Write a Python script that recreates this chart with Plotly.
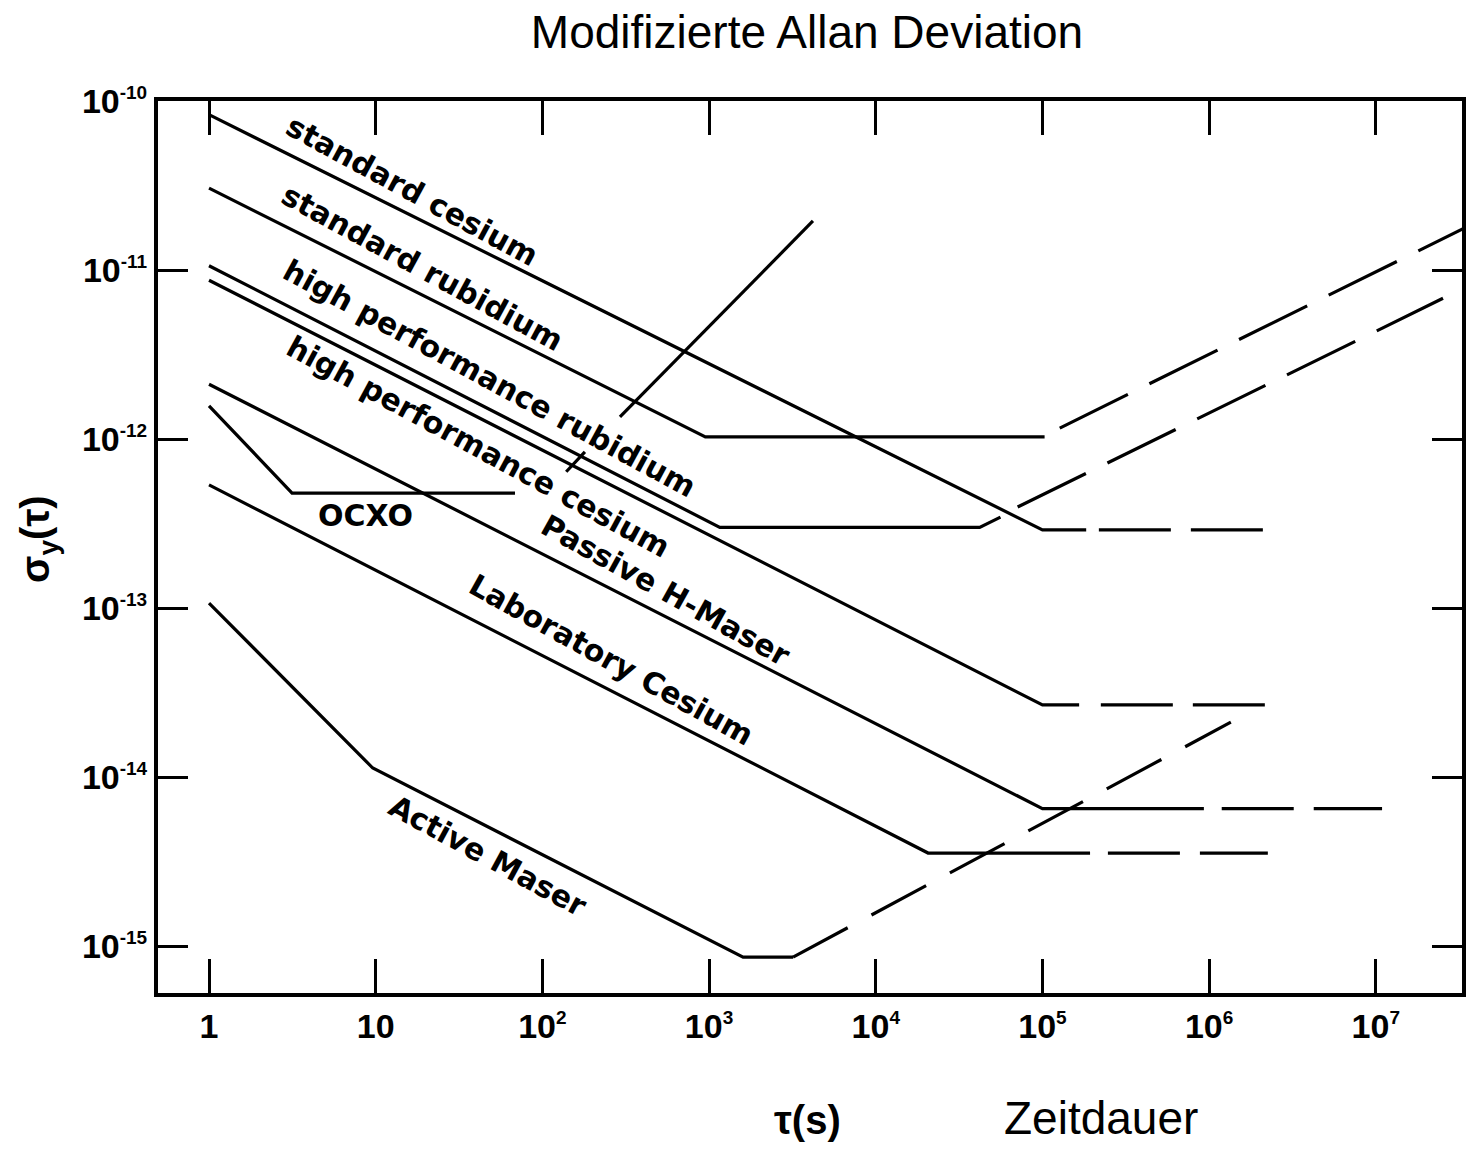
import plotly.graph_objects as go

# ---------------- data ----------------
# tau in seconds, sigma_y(tau) modified Allan deviation
std_cs_tau = [1, 1e5, 1.83e5]
std_cs_sig = [8.3e-11, 2.9e-13, 2.9e-13]
std_cs_ext_tau = [2.18e5, 2.25e6]
std_cs_ext_sig = [2.9e-13, 2.9e-13]

std_rb_tau = [1, 950, 1.03e5]
std_rb_sig = [3.05e-11, 1.03e-12, 1.03e-12]
std_rb_ext_tau = [1.27e5, 3.4e7]
std_rb_ext_sig = [1.16e-12, 1.77e-11]

hp_rb_tau = [1, 1160, 4.2e4, 5.6e4]
hp_rb_sig = [1.06e-11, 3.0e-13, 3.0e-13, 3.45e-13]
hp_rb_ext_tau = [7.1e4, 2.53e7]
hp_rb_ext_sig = [3.96e-13, 6.8e-12]

hp_cs_tau = [1, 1e5, 1.66e5]
hp_cs_sig = [8.7e-12, 2.67e-14, 2.67e-14]
hp_cs_ext_tau = [2.24e5, 2.6e6]
hp_cs_ext_sig = [2.67e-14, 2.67e-14]

ph_tau = [1, 1e5, 9.3e5]
ph_sig = [2.11e-12, 6.5e-15, 6.5e-15]
ph_ext_tau = [1.19e6, 1.09e7]
ph_ext_sig = [6.5e-15, 6.5e-15]

ocxo_tau = [1, 3.15, 68.5]
ocxo_sig = [1.57e-12, 4.79e-13, 4.79e-13]
ocxo_drift_tau = [139, 180, None, 292, 4200]
ocxo_drift_sig = [6.4e-13, 8.4e-13, None, 1.35e-12, 1.95e-11]

lab_cs_tau = [1, 2.06e4, 1.93e5]
lab_cs_sig = [5.35e-13, 3.55e-15, 3.55e-15]
lab_cs_ext_tau = [2.47e5, 2.25e6]
lab_cs_ext_sig = [3.55e-15, 3.55e-15]

am_tau = [1, 9.6, 1.6e3, 3.19e3]
am_sig = [1.07e-13, 1.13e-14, 8.6e-16, 8.6e-16]
am_ext_tau = [3.19e3, 1.35e6]
am_ext_sig = [8.6e-16, 2.11e-14]

x_tickvals = [1, 10, 1e2, 1e3, 1e4, 1e5, 1e6, 1e7]
x_exponents = ["", "", "2", "3", "4", "5", "6", "7"]
x_bases = ["1", "10", "10", "10", "10", "10", "10", "10"]
y_tickvals = [1e-10, 1e-11, 1e-12, 1e-13, 1e-14, 1e-15]
y_exponents = ["-10", "-11", "-12", "-13", "-14", "-15"]

curve_labels = ["standard cesium", "standard rubidium", "high performance rubidium",
                "high performance cesium", "OCXO", "Passive H-Maser",
                "Laboratory Cesium", "Active Maser"]

# label placement (log10 axis units) and rotation -- layout, not data
label_pos = [(1.218, -10.527, 28.5), (1.278, -10.988, 28.5), (1.686, -11.639, 28.5),
             (1.614, -12.047, 28.5), (0.936, -12.450, 0), (2.741, -12.899, 29),
             (2.412, -13.302, 29), (1.668, -14.467, 28.5)]

SUP = '<sup><span style="font-size:19px">{}</span></sup>'


def tick_text(base, exp):
    return base + (SUP.format(exp) if exp else "")


x_ticktext = [tick_text(b, e) for b, e in zip(x_bases, x_exponents)]
y_ticktext = [tick_text("10", e) for e in y_exponents]

# ---------------- figure ----------------
LW = 3.2
FLAT_DASH = "72px,20px"
RISE_DASH = "76px,24px"
fig = go.Figure()


def add(x, y, dash="solid"):
    fig.add_trace(go.Scatter(x=x, y=y, mode="lines", connectgaps=False,
                             line=dict(color="black", width=LW, dash=dash),
                             showlegend=False, hoverinfo="skip"))


add(std_cs_tau, std_cs_sig)
add(std_cs_ext_tau, std_cs_ext_sig, FLAT_DASH)
add(std_rb_tau, std_rb_sig)
add(std_rb_ext_tau, std_rb_ext_sig, RISE_DASH)
add(hp_rb_tau, hp_rb_sig)
add(hp_rb_ext_tau, hp_rb_ext_sig, RISE_DASH)
add(hp_cs_tau, hp_cs_sig)
add(hp_cs_ext_tau, hp_cs_ext_sig, FLAT_DASH)
add(ph_tau, ph_sig)
add(ph_ext_tau, ph_ext_sig, FLAT_DASH)
add(ocxo_tau, ocxo_sig)
add(ocxo_drift_tau, ocxo_drift_sig)
add(lab_cs_tau, lab_cs_sig)
add(lab_cs_ext_tau, lab_cs_ext_sig, FLAT_DASH)
add(am_tau, am_sig)
add(am_ext_tau, am_ext_sig, "62px,27px")

label_font = dict(family="DejaVu Sans", size=30, color="black", weight="bold")
annotations = []
for text, (lx, ly, ang) in zip(curve_labels, label_pos):
    annotations.append(dict(x=lx, y=ly, xref="x", yref="y", text=text, showarrow=False,
                            textangle=ang, font=label_font,
                            xanchor="center", yanchor="middle"))

annotations.append(dict(x=0.4977, y=-0.1424, xref="paper", yref="paper", text="τ(s)",
                        showarrow=False, xanchor="center", yanchor="middle",
                        font=dict(family="Liberation Sans", size=40, color="black",
                                  weight="bold")))
annotations.append(dict(x=0.7232, y=-0.140, xref="paper", yref="paper", text="Zeitdauer",
                        showarrow=False, xanchor="center", yanchor="middle",
                        font=dict(family="Liberation Sans", size=46, color="black")))
annotations.append(dict(x=-0.092, y=0.508, xref="paper", yref="paper",
                        text="σ<sub>y</sub>(τ)", textangle=-90, showarrow=False,
                        xanchor="center", yanchor="middle",
                        font=dict(family="Liberation Sans", size=40, color="black",
                                  weight="bold")))

tick_font = dict(family="Liberation Sans", size=34, color="black", weight="bold")

fig.update_layout(
    width=1480, height=1152,
    margin=dict(l=158, r=18, t=101, b=159),
    paper_bgcolor="white", plot_bgcolor="white",
    title=dict(text="Modifizierte Allan Deviation", x=0.4977, xref="paper",
               xanchor="center", y=1 - 32 / 1152, yref="container", yanchor="middle",
               font=dict(family="Liberation Sans", size=46, color="black")),
    annotations=annotations,
    xaxis=dict(type="log", range=[-0.306, 7.517], tickvals=x_tickvals, ticktext=x_ticktext,
               ticks="inside", ticklen=34, tickwidth=3, tickcolor="black",
               showline=True, linewidth=4, linecolor="black", mirror="ticks",
               showgrid=False, zeroline=False, tickfont=tick_font),
    yaxis=dict(type="log", range=[-15.278, -10], tickvals=y_tickvals, ticktext=y_ticktext,
               ticks="inside", ticklen=30, tickwidth=3, tickcolor="black",
               showline=True, linewidth=4, linecolor="black", mirror="ticks",
               showgrid=False, zeroline=False, tickfont=tick_font),
)

fig.write_html("out.html")
